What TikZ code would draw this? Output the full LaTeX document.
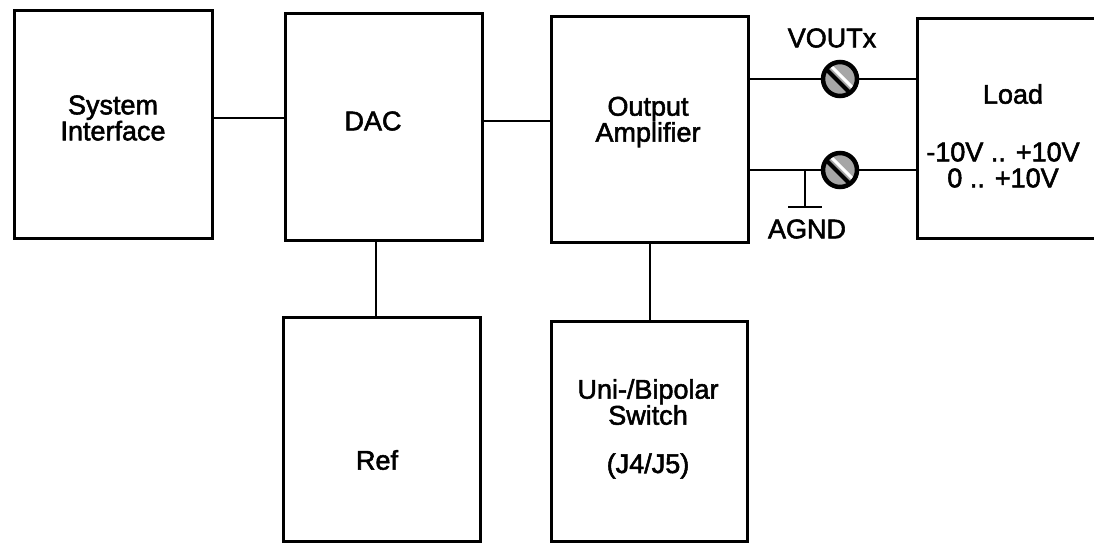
\documentclass[tikz,border=0pt]{standalone}
\usepackage{fontspec}
\setmainfont{Liberation Sans}[FakeBold=2]
\usetikzlibrary{calc}
\begin{document}
\begin{tikzpicture}[x=1pt,y=-1pt,
  box/.style={draw,line width=3pt,inner sep=0pt,outer sep=0pt},
  txt/.style={align=center,inner sep=0pt,font=\fontsize{27}{26}\selectfont},
  wire/.style={line width=2.2pt},
  screwgray/.style={fill=black!35}]
\useasboundingbox (0,0) rectangle (1094,544);
\begin{scope}
\clip (0,0) rectangle (1094,544);
\node[box,minimum width=198pt,minimum height=228pt] (si) at (113,124) {};
\node[box,minimum width=197pt,minimum height=227pt] (dac) at (383.5,126.5) {};
\node[box,minimum width=197pt,minimum height=226pt] (oa) at (649.5,129) {};
\node[box,minimum width=203pt,minimum height=220pt] (load) at (1018.5,128) {};
\node[box,minimum width=197pt,minimum height=224pt] (ref) at (381.5,429) {};
\node[box,minimum width=196pt,minimum height=220pt] (sw) at (649,431) {};

\node[txt] (tsi) at (113,118) {System\\Interface};
\node[txt] (tdac) at (373,121) {DAC};
\node[txt] (toa) at (648,122) {Output\\Amplifier};
\node[txt] (tload) at (1013,94) {Load};
\node[txt] (trange) at (1003,165) {-10V .. +10V\\0 .. +10V};
\node[txt] (tref) at (377,460) {Ref};
\node[txt] (tsw) at (648,402) {Uni-/Bipolar\\Switch};
\node[txt] (tj) at (648,466) {(J4/J5)};
\node[txt] (tvout) at (832,38) {VOUTx};
\node[txt] (tagnd) at (807,229) {AGND};

% connectors
\draw[wire] (si.east |- 0,118) -- (dac.west |- 0,118);
\draw[wire] (dac.east |- 0,121) -- (oa.west |- 0,121);
\draw[wire] (dac.south -| 376,0) -- (ref.north -| 376,0);
\draw[wire] (oa.south -| 650,0) -- (sw.north -| 650,0);

% terminals
\coordinate (s1) at (840,79);
\coordinate (s2) at (840,170);
\draw[wire] (oa.east |- s1) -- (s1);
\draw[wire] (s1) -- (load.west |- s1);
\draw[wire] (oa.east |- s2) -- (s2);
\draw[wire] (s2) -- (load.west |- s2);

% AGND
\coordinate (g1) at (805,170);
\coordinate (g2) at (805,207);
\draw[wire] (g1) -- (g2);
\draw[wire] (788,207) -- (822,207);

\foreach \s in {s1,s2}{
  \fill[screwgray] (\s) circle (17);
  \draw[white,line width=3pt] ($(\s)+(-10,-14)$) -- ($(\s)+(14,10)$);
  \draw[black,line width=4pt] ($(\s)+(-13,-9)$) -- ($(\s)+(9,13)$);
  \draw[line width=4.5pt] (\s) circle (17);
}
\end{scope}
\end{tikzpicture}
\end{document}
